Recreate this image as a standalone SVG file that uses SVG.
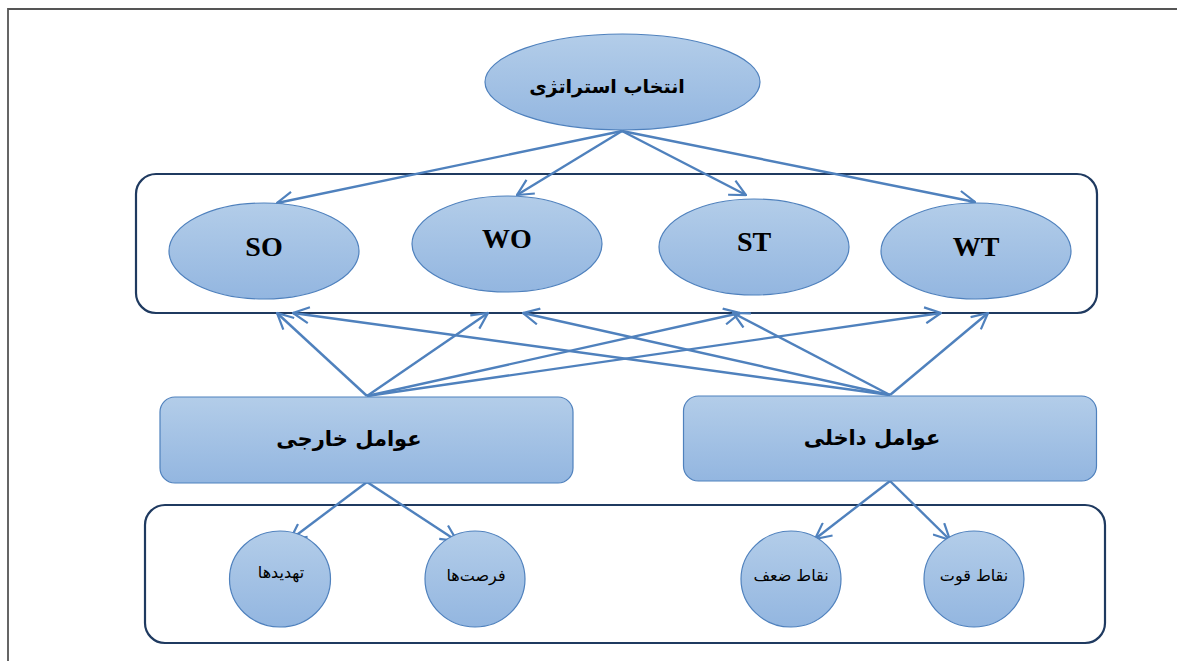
<svg xmlns="http://www.w3.org/2000/svg" width="1177" height="661" viewBox="0 0 1177 661">
<style>
.node{stroke:#4F81BD;stroke-width:1.2;fill:url(#g)}
.grp{fill:none;stroke:#1F3A60;stroke-width:2.2}
.fa{font-family:"DejaVu Sans",sans-serif;fill:#000;text-anchor:middle}
.en{font-family:"Liberation Serif",serif;font-weight:bold;font-size:28px;fill:#000;text-anchor:middle}
.c line{stroke:#4F81BD;stroke-width:2.4;marker-end:url(#ah)}
</style>
<defs>
<linearGradient id="g" x1="0" y1="0" x2="0" y2="1">
<stop offset="0" stop-color="#B3CDE9"/>
<stop offset="1" stop-color="#93B6E0"/>
</linearGradient>
<marker id="ah" viewBox="0 0 18 18" refX="17" refY="9" markerWidth="18" markerHeight="18" markerUnits="userSpaceOnUse" orient="auto">
<path d="M1,1 L17,9 L1,17" fill="none" stroke="#4F81BD" stroke-width="2.2"/>
</marker>
</defs>
<rect width="1177" height="661" fill="#fff"/>
<path d="M8,661 V9 H1177" fill="none" stroke="#555" stroke-width="1.8"/>
<g id="group-swot"><rect class="grp" x="136" y="174" width="961" height="139" rx="20"/></g>
<g id="group-factors"><rect class="grp" x="145" y="505" width="960" height="138" rx="20"/></g>
<g class="c" id="connectors">
<line x1="622" y1="131" x2="277" y2="203"/>
<line x1="622" y1="131" x2="517" y2="195"/>
<line x1="622" y1="131" x2="746" y2="195"/>
<line x1="622" y1="131" x2="975" y2="202"/>
<line x1="367" y1="396" x2="277" y2="313"/>
<line x1="367" y1="396" x2="488" y2="313"/>
<line x1="367" y1="396" x2="740" y2="313"/>
<line x1="367" y1="396" x2="941" y2="313"/>
<line x1="890" y1="395" x2="293" y2="313"/>
<line x1="890" y1="395" x2="523" y2="313"/>
<line x1="890" y1="395" x2="733" y2="313"/>
<line x1="890" y1="395" x2="988" y2="313"/>
<line x1="367" y1="482" x2="290" y2="540"/>
<line x1="367" y1="482" x2="457" y2="541"/>
<line x1="890" y1="481" x2="815" y2="539"/>
<line x1="890" y1="481" x2="950" y2="540"/>
</g>
<g id="strategy"><ellipse class="node" cx="622.5" cy="82" rx="137.5" ry="48"/><text class="fa" x="607" y="93" font-size="19" font-weight="bold">انتخاب استراتژی</text></g>
<g id="so"><ellipse class="node" cx="264" cy="251" rx="95" ry="48"/><text class="en" x="264" y="256">SO</text></g>
<g id="wo"><ellipse class="node" cx="507" cy="244" rx="95" ry="48"/><text class="en" x="507" y="248">WO</text></g>
<g id="st"><ellipse class="node" cx="754" cy="247" rx="95" ry="48"/><text class="en" x="754" y="251">ST</text></g>
<g id="wt"><ellipse class="node" cx="976" cy="251" rx="95" ry="48"/><text class="en" x="976" y="256">WT</text></g>
<g id="external"><rect class="node" x="160" y="397" width="413" height="86" rx="15"/><text class="fa" x="349" y="446" font-size="21" font-weight="bold">عوامل خارجی</text></g>
<g id="internal"><rect class="node" x="683.5" y="396" width="413" height="85" rx="15"/><text class="fa" x="872" y="445" font-size="21" font-weight="bold">عوامل داخلی</text></g>
<g id="threats"><ellipse class="node" cx="280" cy="579" rx="50.5" ry="48"/><text class="fa" x="281" y="578" font-size="16">تهدیدها</text></g>
<g id="opportunities"><ellipse class="node" cx="475" cy="579" rx="50" ry="48"/><text class="fa" x="476" y="581" font-size="16">فرصت‌ها</text></g>
<g id="weaknesses"><ellipse class="node" cx="791" cy="579" rx="50" ry="48"/><text class="fa" x="791" y="581" font-size="16">نقاط ضعف</text></g>
<g id="strengths"><ellipse class="node" cx="974" cy="579" rx="50" ry="48"/><text class="fa" x="974" y="581" font-size="16">نقاط قوت</text></g>
</svg>
